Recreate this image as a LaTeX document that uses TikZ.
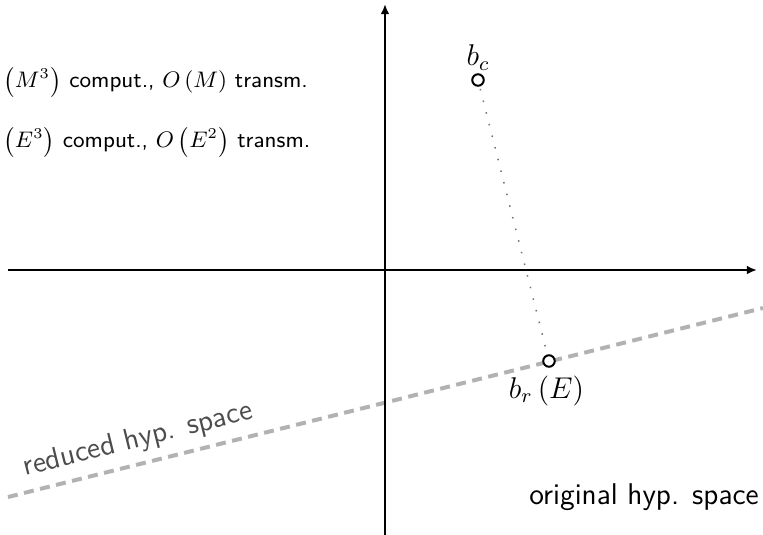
\documentclass[tikz,border=0pt]{standalone}
\usetikzlibrary{positioning,arrows.meta}
\begin{document}
\begin{tikzpicture}[x=0.4pt,y=-0.4pt,axis/.style={-{Latex[length=4pt,width=3.4pt]},line width=0.8pt},hyp/.style={line width=1.6pt,black!30,dash pattern=on 4pt off 2.6pt},pt/.style={circle,draw,line width=0.8pt,inner sep=0pt,minimum size=4.6pt},txt/.style={font=\sffamily,inner sep=0pt}]
\useasboundingbox (0,0) rectangle (763,535);
\coordinate (xl) at (8,270);\coordinate (xr) at (757,270);
\coordinate (yb) at (385,535);\coordinate (yt) at (385,4);
\coordinate (hl) at (8,497);\coordinate (hr) at (763,308);
\draw[hyp] (hl)--(hr);
\draw[axis] (xl)--(xr);\draw[axis] (yb)--(yt);
\node[pt] (bc) at (478,80) {};
\node[pt,fill=white] (br) at (549,361) {};
\draw[black!55,line width=0.6pt,dash pattern=on 0.6pt off 4.2pt,shorten <=1pt,shorten >=1pt] (bc)--(br);
\node[above=1pt of bc,inner sep=0pt,font=\large] (bclbl) {$b_c$};
\node[below=3pt of br,xshift=-1pt,inner sep=0pt,font=\large] (brlbl) {$b_r\left(E\right)$};
\node[txt,font=\sffamily\small,anchor=west] (mtxt) at (3,82) {$\left(M^3\right)$ comput., $O\left(M\right)$ transm.};
\node[txt,font=\sffamily\small,anchor=west] (etxt) at (3,142) {$\left(E^3\right)$ comput., $O\left(E^2\right)$ transm.};
\node[txt,font=\sffamily\large,text=black!70,rotate=14] (red) at (138,440) {reduced hyp. space};
\node[txt,font=\sffamily\large] (orig) at (644,497) {original hyp. space};
\end{tikzpicture}
\end{document}
